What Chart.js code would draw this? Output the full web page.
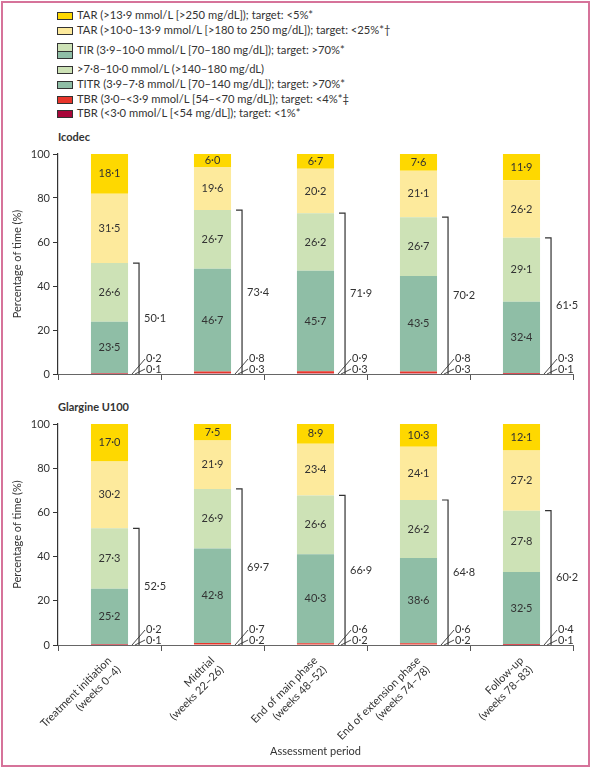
<!DOCTYPE html>
<html>
<head>
<meta charset="utf-8">
<script src="https://cdn.jsdelivr.net/npm/chart.js@4.4.1/dist/chart.umd.min.js"></script>
<style>
  body { margin: 0; background: #fff; font-family: Lato, sans-serif; color: #333; }
  #page { position: relative; width: 591px; height: 770px; overflow: hidden; }
  #frame { position: absolute; left: 1px; top: 1px; width: 585px; height: 762px; border: 2px solid #d6739a; }
  .row { position: absolute; left: 57px; font-size: 11.2px; line-height: 12px; white-space: nowrap; }
  .sw { display: inline-block; width: 14px; height: 6px; border: 1px solid #333; vertical-align: middle; margin-right: 4px; }
  .panelTitle { position: absolute; left: 58px; font-size: 11px; font-weight: bold; }
  .box { position: absolute; left: 0; width: 591px; }
</style>
</head>
<body>
<div id="page">
  <div id="frame"></div>
  <div id="legend"></div>
  <div class="panelTitle" style="top:130px">Icodec</div>
  <div class="panelTitle" style="top:400px">Glargine U100</div>
  <div class="box" style="top:140px;height:250px"><canvas id="chart1"></canvas></div>
  <div class="box" style="top:400px;height:370px"><canvas id="chart2"></canvas></div>
</div>
<script>
// categories
const periods = [
    ['Treatment initiation', '(weeks 0–4)'],
    ['Midtrial', '(weeks 22–26)'],
    ['End of main phase', '(weeks 48–52)'],
    ['End of extension phase', '(weeks 74–78)'],
    ['Follow-up', '(weeks 78–83)']
]

// series, bottom to top
const seriesNames = [
    'TBR (<3·0 mmol/L [<54 mg/dL]); target: <1%*',
    'TBR (3·0–<3·9 mmol/L [54–<70 mg/dL]); target: <4%*‡',
    'TITR (3·9–7·8 mmol/L [70–140 mg/dL]); target: >70%*',
    '>7·8–10·0 mmol/L (>140–180 mg/dL)',
    'TAR (>10·0–13·9 mmol/L [>180 to 250 mg/dL]); target: <25%*†',
    'TAR (>13·9 mmol/L [>250 mg/dL]); target: <5%*'
]
const tirName = 'TIR (3·9–10·0 mmol/L [70–180 mg/dL]); target: >70%*'
const colors = ['#a8063a', '#e8352b', '#8fbea6', '#cde2b6', '#fdea9c', '#fed800']

// Icodec
const icoTbrLow = [0.1, 0.3, 0.3, 0.3, 0.1]
const icoTbrMid = [0.2, 0.8, 0.9, 0.8, 0.3]
const icoTitr = [23.5, 46.7, 45.7, 43.5, 32.4]
const icoTirUpper = [26.6, 26.7, 26.2, 26.7, 29.1]
const icoTarMid = [31.5, 19.6, 20.2, 21.1, 26.2]
const icoTarHigh = [18.1, 6.0, 6.7, 7.6, 11.9]
const icoTir = [50.1, 73.4, 71.9, 70.2, 61.5]

// Glargine U100
const glaTbrLow = [0.1, 0.2, 0.2, 0.2, 0.1]
const glaTbrMid = [0.2, 0.7, 0.6, 0.6, 0.4]
const glaTitr = [25.2, 42.8, 40.3, 38.6, 32.5]
const glaTirUpper = [27.3, 26.9, 26.6, 26.2, 27.8]
const glaTarMid = [30.2, 21.9, 23.4, 24.1, 27.2]
const glaTarHigh = [17.0, 7.5, 8.9, 10.3, 12.1]
const glaTir = [52.5, 69.7, 66.9, 64.8, 60.2]

const yTicks = [0, 20, 40, 60, 80, 100]

const fmt = v => v.toFixed(1).replace('.', '·')
const FONT = 'Lato, sans-serif'
const INK = '#333'
const FS = 11

// Legend (HTML)
const legend = document.getElementById('legend')
const legendRows = [
    { names: [seriesNames[5]], c: [colors[5]], top: 9 },
    { names: [seriesNames[4]], c: [colors[4]], top: 24 },
    { names: [tirName], c: [colors[3], colors[2]], top: 43 },
    { names: [seriesNames[3]], c: [colors[3]], top: 63 },
    { names: [seriesNames[2]], c: [colors[2]], top: 78 },
    { names: [seriesNames[1]], c: [colors[1]], top: 93 },
    { names: [seriesNames[0]], c: [colors[0]], top: 107 }
]
legendRows.forEach(r => {
    const d = document.createElement('div')
    d.className = 'row'
    d.style.top = r.top + 'px'
    let sw
    if (r.c.length === 2) {
        sw = '<span class="sw" style="height:14px;background:linear-gradient(' + r.c[0] + ' 50%, #333 50%, #333 calc(50% + 1px), ' + r.c[1] + ' calc(50% + 1px))"></span>'
    } else {
        sw = '<span class="sw" style="background:' + r.c[0] + '"></span>'
    }
    d.innerHTML = sw + r.names[0].replace(/</g, '&lt;').replace(/>/g, '&gt;')
    legend.appendChild(d)
})

// labels, brackets and leaders
const annotate = {
    id: 'annotate',
    afterDatasetsDraw(chart, args, opts) {
        const ctx = chart.ctx
        const y = chart.scales.y
        const base = y.getPixelForValue(0)
        ctx.save()
        ctx.font = FS + 'px ' + FONT
        ctx.fillStyle = INK
        ctx.textAlign = 'center'
        ctx.textBaseline = 'middle'
        for (let k = 2; k < 6; k++) {
            const meta = chart.getDatasetMeta(k)
            meta.data.forEach((el, i) => {
                ctx.fillText(fmt(chart.data.datasets[k].data[i]), el.x, (el.y + el.base) / 2)
            })
        }
        const top = chart.getDatasetMeta(3)
        ctx.strokeStyle = INK
        ctx.lineWidth = 1.2
        top.data.forEach((el, i) => {
            const right = el.x + el.width / 2
            const bx = right + 11
            const ty = el.y
            ctx.beginPath()
            ctx.moveTo(right + 5, ty)
            ctx.lineTo(bx, ty)
            ctx.lineTo(bx, base)
            ctx.stroke()
            ctx.textAlign = 'left'
            ctx.fillText(fmt(opts.tir[i]), bx + 5, (ty + base) / 2)
            // TBR leaders
            ctx.lineWidth = 0.9
            ctx.beginPath()
            ctx.moveTo(right + 4, base)
            ctx.lineTo(bx + 6, base - 15)
            ctx.moveTo(right + 7, base)
            ctx.lineTo(bx + 6, base - 5)
            ctx.stroke()
            ctx.lineWidth = 1.2
            ctx.fillText(fmt(chart.data.datasets[1].data[i]), bx + 7, base - 16)
            ctx.fillText(fmt(chart.data.datasets[0].data[i]), bx + 7, base - 5)
            ctx.textAlign = 'center'
        })
        ctx.restore()
    }
}

function makeChart(id, series, tir, bottomAxis) {
    const datasets = series.map((d, k) => ({
        label: seriesNames[k],
        data: d,
        backgroundColor: colors[k],
        borderWidth: 0,
        categoryPercentage: 1,
        barPercentage: 0.36
    }))
    return new Chart(document.getElementById(id), {
        type: 'bar',
        data: { labels: periods, datasets: datasets },
        plugins: [annotate],
        options: {
            responsive: true,
            maintainAspectRatio: false,
            animation: false,
            layout: { padding: { top: bottomAxis ? 24 : 14, right: 18, left: 0, bottom: 0 } },
            plugins: {
                legend: { display: false },
                tooltip: { enabled: false },
                annotate: { tir: tir }
            },
            scales: {
                x: {
                    stacked: true,
                    afterFit: s => { s.height = bottomAxis ? 125 : 16 },
                    border: { color: '#666', width: 1 },
                    grid: { drawOnChartArea: false, tickLength: 6, color: '#555', offset: true },
                    ticks: {
                        display: bottomAxis,
                        minRotation: 45, maxRotation: 45,
                        color: INK,
                        font: { family: FONT, size: FS },
                        padding: 3
                    },
                    title: {
                        display: bottomAxis,
                        text: 'Assessment period',
                        color: INK,
                        font: { family: FONT, size: FS },
                        padding: { bottom: 12, top: 0 }
                    }
                },
                y: {
                    stacked: true,
                    min: 0, max: 100,
                    afterFit: s => { s.width = 58 },
                    afterBuildTicks: s => { s.ticks = yTicks.map(v => ({ value: v })) },
                    border: { color: INK, width: 1.2 },
                    grid: { drawOnChartArea: false, tickLength: 5, color: INK },
                    ticks: { color: INK, font: { family: FONT, size: FS }, padding: 3 },
                    title: {
                        display: true,
                        text: 'Percentage of time (%)',
                        color: INK,
                        font: { family: FONT, size: FS },
                        padding: { top: 11, bottom: 0 }
                    }
                }
            }
        }
    })
}

makeChart('chart1', [icoTbrLow, icoTbrMid, icoTitr, icoTirUpper, icoTarMid, icoTarHigh], icoTir, false)
makeChart('chart2', [glaTbrLow, glaTbrMid, glaTitr, glaTirUpper, glaTarMid, glaTarHigh], glaTir, true)
</script>
</body>
</html>
